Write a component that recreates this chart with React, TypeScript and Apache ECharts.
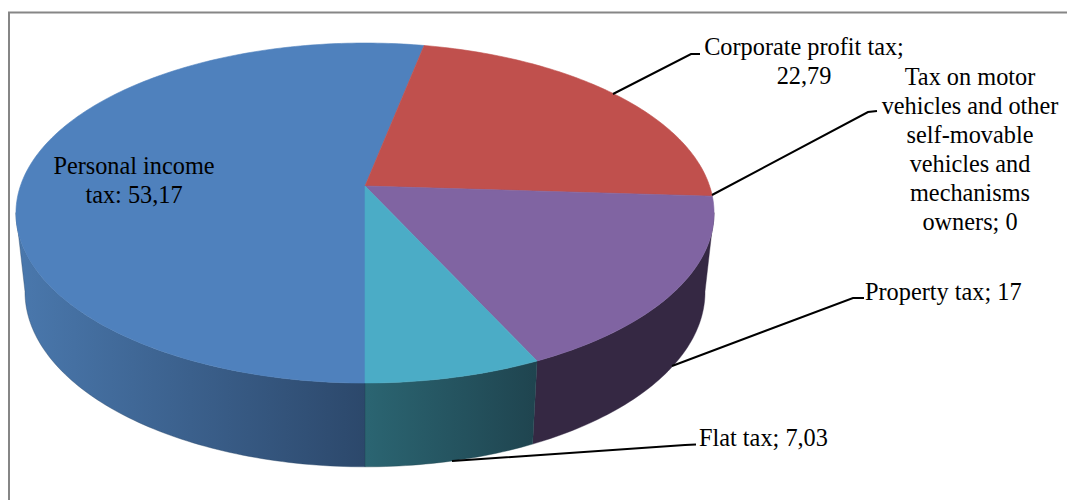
import React, { useEffect, useRef } from "react";
import * as echarts from "echarts";

// Tax revenue shares, clockwise from the front of the pie.
const categories = [
  "Personal income tax",
  "Corporate profit tax",
  "Tax on motor vehicles and other self-movable vehicles and mechanisms owners",
  "Property tax",
  "Flat tax",
];
const shares = [53.17, 22.79, 0, 17, 7.03];
const shareLabels = ["53,17", "22,79", "0", "17", "7,03"];

const topColors = ["#4F81BD", "#C0504D", "#9BBB59", "#8064A2", "#4BACC6"];
const wallColors = [
  ["#4A78AD", "#2C486B"],
  ["#6E2E2C", "#6E2E2C"],
  ["#5A6E33", "#5A6E33"],
  ["#352843", "#352843"],
  ["#2B6572", "#1F444F"],
];

// Wrapped label lines, one list per category, in the same order.
const labelLines = [
  ["Personal income", "tax: " + shareLabels[0]],
  ["Corporate profit tax;", shareLabels[1]],
  ["Tax on motor", "vehicles and other", "self-movable", "vehicles and", "mechanisms", "owners; " + shareLabels[2]],
  ["Property tax; " + shareLabels[3]],
  ["Flat tax; " + shareLabels[4]],
];

const START_ANGLE = Math.PI; // first slice begins at the front
const PERSPECTIVE = 0.159;
const CENTER_X = 365;
const FRONT_FROM = (99 * Math.PI) / 180; // right-hand silhouette of the side wall
const FRONT_TO = (261 * Math.PI) / 180; // left-hand silhouette of the side wall

type Plane = { y0: number; a: number; b: number };
const TOP_PLANE: Plane = { y0: 186, a: 165.7, b: 344.6 };
const BOTTOM_PLANE: Plane = { y0: 264, a: 170.6, b: 335.7 };

// Projects an angle on the unit disc onto a tilted plane in perspective.
function project(theta: number, radius: number, plane: Plane): number[] {
  const u = radius * Math.sin(theta);
  const v = -radius * Math.cos(theta);
  const w = 1 - PERSPECTIVE * v;
  return [CENTER_X + (plane.b * u) / w, plane.y0 + (plane.a * v) / w];
}

function arc(from: number, to: number, plane: Plane): number[][] {
  const steps = Math.max(2, Math.ceil(((to - from) * 180) / Math.PI));
  const pts: number[][] = [];
  for (let i = 0; i <= steps; i++) {
    pts.push(project(from + ((to - from) * i) / steps, 1, plane));
  }
  return pts;
}

function sliceRange(index: number): [number, number] {
  const total = shares.reduce((s, v) => s + v, 0);
  const before = shares.slice(0, index).reduce((s, v) => s + v, 0);
  const a0 = START_ANGLE + (before / total) * Math.PI * 2;
  return [a0, a0 + (shares[index] / total) * Math.PI * 2];
}

function renderTop(params: any, api: any) {
  const i = params.dataIndex;
  if (api.value(0) <= 0) return { type: "group", children: [] };
  const [a0, a1] = sliceRange(i);
  const points = [project(0, 0, TOP_PLANE), ...arc(a0, a1, TOP_PLANE)];
  return {
    type: "polygon",
    shape: { points },
    style: { fill: topColors[i], stroke: topColors[i], lineWidth: 0.6 },
  };
}

function renderWall(params: any, api: any) {
  const i = params.dataIndex;
  if (api.value(0) <= 0) return { type: "group", children: [] };
  const [a0, a1] = sliceRange(i);
  // Keep only the part of the rim that faces the viewer, in either turn of the circle.
  const turn = Math.PI * 2;
  const ranges: [number, number][] = [];
  for (const k of [0, 1]) {
    const from = Math.max(a0, FRONT_FROM + k * turn);
    const to = Math.min(a1, FRONT_TO + k * turn);
    if (to > from) ranges.push([from, to]);
  }
  const children = ranges.map(([from, to]) => {
    const upper = arc(from, to, TOP_PLANE);
    const lower = arc(from, to, BOTTOM_PLANE).reverse();
    const all = [...upper, ...lower];
    const xs = all.map((p) => p[0]);
    const fill = new echarts.graphic.LinearGradient(
      Math.min(...xs), 0, Math.max(...xs), 0,
      [
        { offset: 0, color: wallColors[i][0] },
        { offset: 1, color: wallColors[i][1] },
      ],
      true
    );
    return {
      type: "polygon",
      shape: { points: all },
      style: { fill, stroke: wallColors[i][1], lineWidth: 0.4 },
    };
  });
  return { type: "group", children };
}

const labelFont = '24.3px "Liberation Serif", "Times New Roman", serif';
const LINE_HEIGHT = 29;

function textBlock(lines: string[], x: number, firstBaseline: number, align: string) {
  return lines.map((line, n) => ({
    type: "text",
    x,
    y: firstBaseline + n * LINE_HEIGHT,
    z: 10,
    style: { text: line, font: labelFont, fill: "#000000", align, verticalAlign: "bottom" },
  }));
}

function leader(points: number[][]) {
  return {
    type: "polyline",
    z: 9,
    shape: { points },
    style: { stroke: "#000000", lineWidth: 2, fill: "none" },
  };
}

export default function App() {
  const ref = useRef<HTMLDivElement>(null);

  useEffect(() => {
    document.body.style.margin = "0";
    const chart = echarts.init(ref.current!, null, { renderer: "svg" });
    const data = shares.map((v, i) => ({ name: categories[i], value: v }));
    chart.setOption({
      animation: false,
      backgroundColor: "#ffffff",
      series: [
        { type: "custom", coordinateSystem: "none", z: 1, silent: true, renderItem: renderWall, data },
        { type: "custom", coordinateSystem: "none", z: 2, silent: true, renderItem: renderTop, data },
      ],
      graphic: {
        elements: [
          {
            type: "polyline",
            z: 0,
            shape: { points: [[9, 500], [9, 12.5], [1067, 12.5]] },
            style: { stroke: "#868686", lineWidth: 2, fill: "none" },
          },
          leader([[613, 94], [691, 54], [700, 54]]),
          leader([[712, 195], [868, 112], [877, 111]]),
          leader([[672, 366], [853, 298], [864, 298]]),
          leader([[452, 461], [685, 445], [696, 444.5]]),
          ...textBlock(labelLines[0], 134, 177, "center"),
          ...textBlock(labelLines[1], 804, 58, "center"),
          ...textBlock(labelLines[2], 970, 88, "center"),
          ...textBlock(labelLines[3], 865, 303, "left"),
          ...textBlock(labelLines[4], 699, 449, "left"),
        ],
      },
    });
    return () => chart.dispose();
  }, []);

  return <div ref={ref} style={{ width: 1067, height: 500 }} />;
}
